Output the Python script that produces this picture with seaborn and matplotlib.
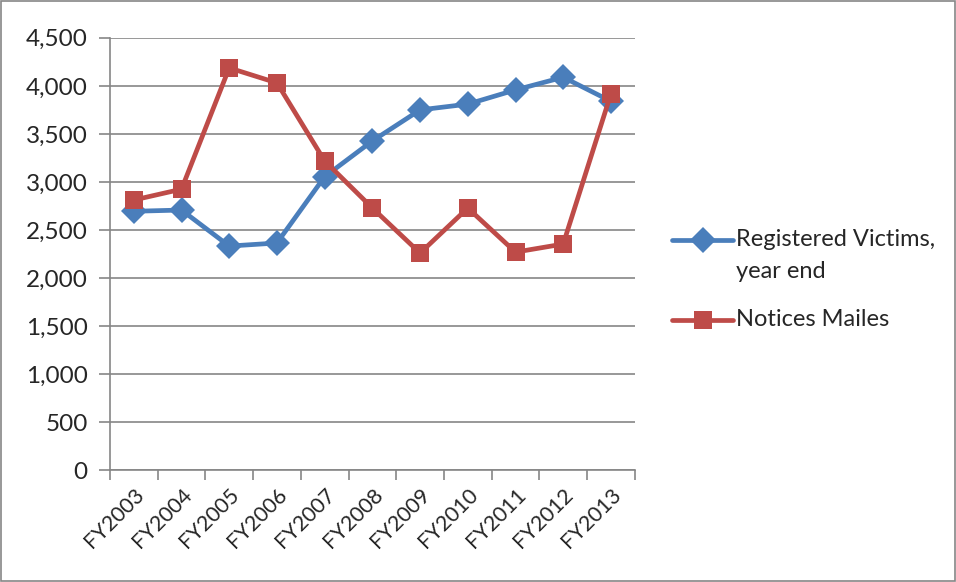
import numpy as np
import pandas as pd
import matplotlib
matplotlib.use('Agg')
import matplotlib.pyplot as plt
import seaborn as sns
from matplotlib.ticker import FuncFormatter, FixedLocator

sns.set_style('white')
plt.rcParams['font.family'] = ['Lato', 'DejaVu Sans']

years = ['FY2003', 'FY2004', 'FY2005', 'FY2006', 'FY2007', 'FY2008',
         'FY2009', 'FY2010', 'FY2011', 'FY2012', 'FY2013']
victims = [2695, 2708, 2333, 2365, 3055, 3427, 3750, 3810, 3958, 4090, 3840]
notices = [2812, 2925, 4187, 4031, 3219, 2729, 2260, 2729, 2270, 2354, 3917]

series_names = ['Registered Victims,', 'Notices Mailes']
colors = ['#4A7EBB', '#BE4B48']
y_ticks = [0, 500, 1000, 1500, 2000, 2500, 3000, 3500, 4000, 4500]

df = pd.DataFrame({
    'x': list(range(len(years))) * 2,
    'value': victims + notices,
    'series': [series_names[0]] * len(years) + [series_names[1]] * len(years),
})

FS = 17
W, H = 956, 582

fig = plt.figure(figsize=(9.56, 5.82), dpi=100)
ax = fig.add_axes([0.115, 0.192, 0.549, 0.743])

sns.lineplot(data=df, x='x', y='value', hue='series', style='series',
             palette=colors, markers=['D', 's'], dashes=False,
             linewidth=3.4, markersize=13, markeredgewidth=0,
             ax=ax, legend=False)

# y axis
ax.set_ylim(0, 4500)
ax.set_yticks(y_ticks)
ax.yaxis.set_major_formatter(FuncFormatter(lambda v, p: f'{int(v):,}'))
ax.grid(axis='y', color='#868686', linewidth=1.2)
ax.set_axisbelow(True)

# x axis: ticks at category boundaries, labels at centres
ax.set_xlim(-0.5, len(years) - 0.5)
ax.xaxis.set_major_locator(FixedLocator(np.arange(-0.5, len(years), 1.0)))
ax.xaxis.set_major_formatter(FuncFormatter(lambda v, p: ''))
ax.xaxis.set_minor_locator(FixedLocator(np.arange(len(years))))
ax.set_xticklabels(years, minor=True, rotation=45, ha='right',
                   rotation_mode='anchor', fontsize=15.5)
ax.tick_params(axis='x', which='major', length=7, color='#868686', width=1.2, direction='out', bottom=True)
ax.tick_params(axis='x', which='minor', length=0, pad=10)
ax.tick_params(axis='y', length=8, color='#868686', width=1.2, direction='out',
               left=True, labelsize=17.5, pad=8)
ax.set_xlabel('')
ax.set_ylabel('')

for side in ['top', 'right']:
    ax.spines[side].set_visible(False)
for side in ['left', 'bottom']:
    ax.spines[side].set_color('#868686')
    ax.spines[side].set_linewidth(1.2)

# legend drawn by hand so the handle sits on the first text line (Excel style)
legend_rows = [(240, series_names[0], 'D'), (320, series_names[1], 's')]
for (ypix, label, m), c in zip(legend_rows, colors):
    yf = 1 - ypix / H
    fig.add_artist(plt.Line2D([672 / W, 733 / W], [yf, yf], color=c, linewidth=3.4,
                              transform=fig.transFigure))
    fig.add_artist(plt.Line2D([702.5 / W], [yf], color=c, marker=m, markersize=13,
                              markeredgewidth=0, transform=fig.transFigure))
    fig.text(736 / W, yf, label, fontsize=FS, va='center', ha='left')
fig.text(736 / W, 1 - 271 / H, 'year end', fontsize=FS, va='center', ha='left')

# outer frame
fig.patches.append(plt.Rectangle((0.001, 0.001), 0.998, 0.998, transform=fig.transFigure,
                                 fill=False, edgecolor='#868686', linewidth=1.2))

plt.savefig('out.png', dpi=100)
plt.close()
